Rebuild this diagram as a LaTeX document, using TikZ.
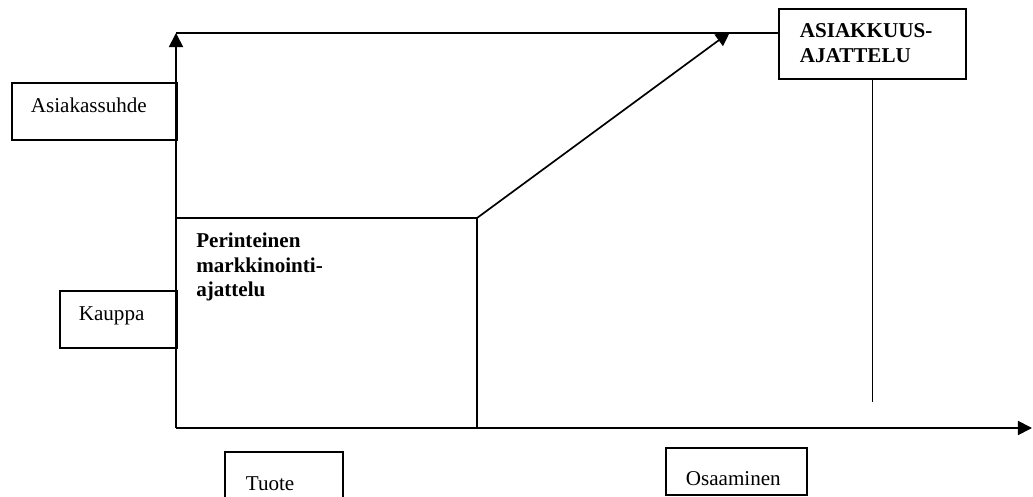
\documentclass[tikz,border=0pt]{standalone}
\usepackage{fontspec}
\setmainfont{Liberation Serif}
\usetikzlibrary{arrows.meta}
\newcommand{\teksti}{\fontsize{15}{17.4}\selectfont}

\begin{document}
\begin{tikzpicture}[x=0.025cm, y=-0.025cm,
    viiva/.style={line width=1.2pt},
    nuoli/.style={viiva, -{Triangle[length=10pt, width=10pt]}},
    laatikko/.style={draw, line width=1.2pt, anchor=north west, inner ysep=0pt, align=left, font=\teksti}]
        % Kuvan rajat
        \useasboundingbox (0,0) rectangle (1033,497);

        % Akselien pisteet
        \coordinate (origo) at (176,428);
        \coordinate (ylos) at (176,33);
        \coordinate (oikea) at (1032,428);
        \coordinate (kulma) at (477,218);
        \coordinate (karki) at (730,32);
        \coordinate (loppu) at (873,402);

        % Laatikot
        \node[laatikko, text width=3.175cm, inner xsep=0.475cm, text height=0.75cm, text depth=0.675cm] (suhde) at (11,82) {Asiakassuhde};
        \node[laatikko, text width=1.975cm, inner xsep=0.475cm, text height=0.75cm, text depth=0.675cm] (kauppa) at (59,290) {Kauppa};
        \node[laatikko, text width=1.9cm, inner xsep=0.525cm, text height=0.975cm, text depth=0.4cm] (tuote) at (224,451) {Tuote};
        \node[laatikko, text width=2.525cm, inner xsep=0.5cm, text height=0.95cm, text depth=0.225cm] (osaaminen) at (665,447) {Osaaminen};
        \node[laatikko, font=\teksti\bfseries, text width=3.625cm, inner xsep=0.525cm, text height=0.725cm, text depth=1.025cm] (asiakkuus) at (778,8) {ASIAKKUUS-\\AJATTELU};

        % Perinteinen alue
        \node[anchor=base west, inner sep=0pt, align=left, text width=4cm, font=\teksti\bfseries] (perinteinen) at (196,248) {Perinteinen\\markkinointi-\\ajattelu};

        % Akselit ja viivat
        \draw[nuoli] (origo) -- (ylos);
        \draw[nuoli] (origo) -- (oikea);
        \draw[viiva] (ylos) -- (ylos -| asiakkuus.west);
        \draw[viiva] (origo |- kulma) -- (kulma) -- (kulma |- origo);
        \draw[nuoli] (kulma) -- (karki);
        \draw[viiva] (asiakkuus.south) -- (asiakkuus.south |- loppu);

    \end{tikzpicture}
\end{document}
